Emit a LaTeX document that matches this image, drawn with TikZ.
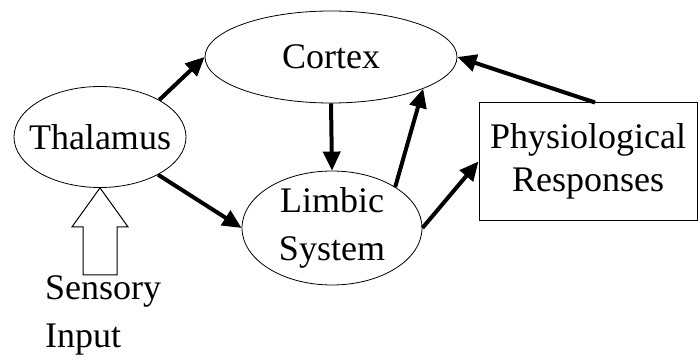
\documentclass[tikz,border=0pt]{standalone}
\usepackage{fontspec}
\setmainfont{Liberation Serif}
\newfontfamily\timesfont{Liberation Serif}
\usetikzlibrary{shapes.geometric,arrows.meta}

\begin{document}
\begin{tikzpicture}[x=1pt,y=-1pt,
	oval/.style={draw,ellipse,line width=0.8pt,inner xsep=-14pt,inner ysep=-4pt,align=center},
	link/.style={line width=4pt,-{Triangle[length=19pt,width=17pt]}},
	every node/.style={font=\timesfont\fontsize{36}{48}\selectfont}]
	\useasboundingbox (0,0) rectangle (700,363);
	\node[oval,minimum width=252pt,minimum height=92pt] (cortex) at (331,57) {Cortex};
	\node[oval,minimum width=172pt,minimum height=101pt] (thal) at (100,137) {Thalamus};
	\node[oval,minimum width=180pt,minimum height=114pt] (limbic) at (332,228) {Limbic\\System};
	\node[draw,line width=1pt,minimum width=218pt,minimum height=117pt,align=center,
		font=\timesfont\fontsize{36}{43}\selectfont] (phys) at (588,161.5) {Physiological\\Responses};
	\node[align=left,anchor=north west,inner sep=0pt] (input) at (45,275) {Sensory\\Input};
	% hollow arrow from the input up to the thalamus
	\draw[line width=1pt] (thal.south) -- ++(28,39) -- ++(-11,0) -- ++(0,48) -- ++(-34,0)
		-- ++(0,-48) -- ++(-11,0) -- cycle;
	\draw[link] (thal.32) -- (cortex.west);
	\draw[link] (thal.-33) -- (limbic.west);
	\draw[link] (cortex.south) -- (limbic.north);
	\draw[link] (limbic.33) -- (cortex.-19);
	\draw[link] (limbic.east) -- (phys.west);
	\draw[link] ([xshift=7pt]phys.north) -- (cortex.east);
\end{tikzpicture}
\end{document}
